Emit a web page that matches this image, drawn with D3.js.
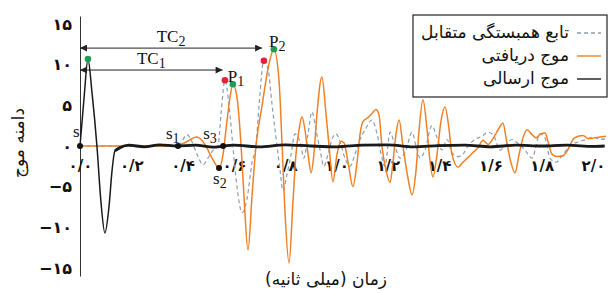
<!DOCTYPE html>
<html>
<head>
<meta charset="utf-8">
<script src="https://cdn.jsdelivr.net/npm/d3@7"></script>
<style>
  body { margin: 0; background: #fff; }
  text { fill: #111; }
  .fa { font-family: "DejaVu Sans", sans-serif; }
  .lat { font-family: "Liberation Serif", serif; }
</style>
</head>
<body>
<svg id="chart" width="611" height="293"></svg>
<script>
// tick values and labels
const xTicks = [0, 0.2, 0.4, 0.6, 0.8, 1.0, 1.2, 1.4, 1.6, 1.8, 2.0];
const xTickLabels = ["۰/۰", "۰/۲", "۰/۴", "۰/۶", "۰/۸", "۱/۰", "۱/۲", "۱/۴", "۱/۶", "۱/۸", "۲/۰"];
const yTicks = [-15, -10, -5, 0, 5, 10, 15];
const yTickLabels = ["−۱۵", "−۱۰", "−۵", "۰", "۵", "۱۰", "۱۵"];

// transmitted wave (black)
const sentTime = [0, 0.016, 0.031, 0.047, 0.066, 0.082, 0.097, 0.113, 0.125, 0.136, 0.156, 0.19, 0.25, 0.31, 0.38, 0.45, 0.52, 0.6, 0.7, 0.8, 0.9, 1.0, 1.1, 1.2, 1.3, 1.4, 1.5, 1.6, 1.7, 1.8, 1.9, 2.0, 2.045];
const sentAmp = [0, 6, 10.7, 6.5, 0, -7, -10.7, -7.5, -3, -0.6, -0.2, 0.1, -0.1, 0.15, 0, 0.1, -0.15, 0.1, -0.1, 0.15, 0, -0.1, 0.1, 0.15, -0.1, 0.05, 0.1, -0.1, 0.1, 0, 0.1, -0.05, 0];

// received wave (orange)
const recvTime = [0, 0.370, 0.402, 0.456, 0.487, 0.515, 0.542, 0.558, 0.569, 0.585, 0.596, 0.612, 0.628, 0.639, 0.655, 0.671, 0.686, 0.710, 0.733, 0.756, 0.776, 0.788, 0.799, 0.815, 0.830, 0.842, 0.854, 0.865, 0.877, 0.889, 0.901, 0.912, 0.924, 0.943, 0.959, 0.971, 0.986, 1.002, 1.018, 1.029, 1.045, 1.064, 1.080, 1.092, 1.103, 1.123, 1.138, 1.154, 1.166, 1.177, 1.193, 1.209, 1.220, 1.232, 1.244, 1.259, 1.279, 1.294, 1.310, 1.322, 1.337, 1.353, 1.365, 1.376, 1.392, 1.407, 1.423, 1.439, 1.450, 1.474, 1.493, 1.513, 1.532, 1.552, 1.571, 1.591, 1.610, 1.630, 1.649, 1.661, 1.676, 1.696, 1.712, 1.727, 1.743, 1.762, 1.778, 1.797, 1.813, 1.825, 1.840, 1.860, 1.883, 1.903, 1.922, 1.942, 1.961, 1.981, 2.004, 2.027, 2.051];
const recvAmp = [0, 0, 0.3, 1.1, 0.2, -1.5, -2.7, -1.0, 2, 6, 7.6, 6, 0, -6, -12.8, -6, 0, 5, 9.5, 11.9, 8, 0, -8, -14.4, -7, -1, 2, 3.6, 2, -1, -3.3, -1, 4, 8.5, 4, 0, -4.4, -1, 0.6, 0.4, -2, -5, -2, 1.5, 3, 3.5, 4, 4.5, 3.8, 0, -3, -4.5, -2, 1.5, 3.2, 0, -4, -6, -3, 2, 5.7, 2, -2, -3.8, -1, 3, 4.8, 2, -1, -2.6, -2, -1.4, -0.8, -0.2, 0.7, 0.2, 0.9, 2, 2.8, 1, -1.5, -3.3, -1, 1, 2, 1.4, 1, 1.5, 1.6, 0.5, -1, -1.3, -1.2, -0.4, 0.8, 1.2, 1.3, 0.9, 1.0, 1.1, 1.2];

// cross-correlation (grey dashed)
const corrTime = [0, 0.351, 0.390, 0.417, 0.437, 0.456, 0.480, 0.499, 0.519, 0.538, 0.550, 0.565, 0.581, 0.596, 0.612, 0.632, 0.651, 0.671, 0.686, 0.698, 0.717, 0.733, 0.749, 0.768, 0.780, 0.791, 0.807, 0.823, 0.838, 0.858, 0.873, 0.889, 0.904, 0.920, 0.936, 0.951, 0.967, 0.982, 0.998, 1.014, 1.033, 1.053, 1.072, 1.092, 1.115, 1.138, 1.158, 1.174, 1.189, 1.209, 1.228, 1.248, 1.271, 1.294, 1.310, 1.326, 1.345, 1.372, 1.392, 1.411, 1.431, 1.450, 1.474, 1.493, 1.513, 1.540, 1.567, 1.591, 1.614, 1.637, 1.661, 1.684, 1.708, 1.735, 1.762, 1.793, 1.813, 1.832, 1.856, 1.879, 1.910, 1.942, 1.973, 2.000, 2.027, 2.051];
const corrAmp = [0, 0, 0.3, 1.4, 0.5, -1, -2.3, -1.5, -0.5, 0, 4, 8.1, 5, 0, -5, -8.2, -6.5, -2, 0, 5, 10.5, 9.5, 5, 0, -3, -5.5, -3.5, -1, 1.5, 0.5, -1.5, 1.5, 4.2, 2, -0.5, -2.5, -1, 0.8, 1.5, 0.5, -1.5, -2.5, -1, 0.8, 2.2, 3.2, 1.5, -1, -2.5, 1.7, 0, -1.5, -0.5, 1.7, 0, -1.5, -0.5, 2.5, 1, -0.5, 0.8, -0.8, -1.3, -1, 0, 0.8, 1.2, 1.7, 1.2, -0.5, 0.2, 0.8, 0.3, -0.5, -1.5, 1.5, 1, -1.5, -2, -1.2, 0, 0.5, 0.8, 1.1, 0.8, 0.9];

// marked points
const startNames = ["s", "s1", "s3", "s2"];
const startTime = [0, 0.382, 0.558, 0.542];
const startAmp = [0, 0, 0, -2.7];
const peakNames = ["", "P1", "P2"];
const peakTime = [0.031, 0.596, 0.756];
const peakAmp = [10.7, 7.6, 11.9];
const corrPeakTime = [0.565, 0.717];
const corrPeakAmp = [8.1, 10.5];
const tcNames = ["TC1", "TC2"];
const tcEnd = [0.556, 0.71];
const tcLevel = [9.35, 12.05];

const legendLabels = ["تابع همبستگی متقابل", "موج دریافتی", "موج ارسالی"];

const orange = "#ef8026";
const grey = "#8e9db0";

const svg = d3.select("#chart");
const x = d3.scaleLinear().domain([0, 2]).range([80, 593]);
const y = d3.scaleLinear().domain([-16, 16]).range([276, 16]);

const zip = (t, v) => t.map((d, i) => [d, v[i]]);
const line = d3.line().x(d => x(d[0])).y(d => y(d[1])).curve(d3.curveMonotoneX);

// axes
const yAxis = svg.append("g")
  .attr("transform", `translate(${x(0)},0)`)
  .call(d3.axisLeft(y).tickValues(yTicks).tickSize(0).tickPadding(8)
    .tickFormat((d, i) => yTickLabels[i]));
yAxis.select(".domain").attr("stroke", "#333").attr("stroke-width", 1);
yAxis.selectAll("text").attr("class", "fa").style("font-size", "16px").style("font-weight", "bold").attr("fill", "#111");

const xAxis = svg.append("g")
  .attr("transform", `translate(0,${y(0)})`)
  .call(d3.axisBottom(x).tickValues(xTicks).tickSize(0).tickPadding(14)
    .tickFormat((d, i) => xTickLabels[i]));
xAxis.select(".domain").remove();
xAxis.selectAll("text").attr("class", "fa").style("font-size", "15px").style("font-weight", "bold").attr("fill", "#111");

// series
svg.append("path")
  .datum(zip(corrTime, corrAmp))
  .attr("d", line)
  .attr("fill", "none")
  .attr("stroke", grey)
  .attr("stroke-width", 1.2)
  .attr("stroke-dasharray", "4,3");

svg.append("path")
  .datum(zip(recvTime, recvAmp))
  .attr("d", line)
  .attr("fill", "none")
  .attr("stroke", orange)
  .attr("stroke-width", 1.5);

const sent = zip(sentTime, sentAmp);
svg.append("path")
  .datum(sent)
  .attr("d", line)
  .attr("fill", "none")
  .attr("stroke", "#1a1a1a")
  .attr("stroke-width", 1.5);
svg.append("path")
  .datum(sent.filter(d => d[0] >= 0.136))
  .attr("d", line)
  .attr("fill", "none")
  .attr("stroke", "#1a1a1a")
  .attr("stroke-width", 2.8);

// TC arrows
const defs = svg.append("defs");
["start", "end"].forEach(k => {
  defs.append("marker")
    .attr("id", "arrow-" + k)
    .attr("viewBox", "0 0 10 10")
    .attr("refX", k === "end" ? 10 : 0)
    .attr("refY", 5)
    .attr("markerWidth", 8)
    .attr("markerHeight", 7)
    .attr("markerUnits", "userSpaceOnUse")
    .attr("orient", "auto")
    .append("path")
    .attr("d", k === "end" ? "M0,0L10,5L0,10Z" : "M10,0L0,5L10,10Z")
    .attr("fill", "#222");
});

tcNames.forEach((name, i) => {
  svg.append("line")
    .attr("x1", x(0)).attr("x2", x(tcEnd[i]))
    .attr("y1", y(tcLevel[i])).attr("y2", y(tcLevel[i]))
    .attr("stroke", "#222")
    .attr("stroke-width", 1)
    .attr("marker-start", "url(#arrow-start)")
    .attr("marker-end", "url(#arrow-end)");
  const t = svg.append("text")
    .attr("class", "lat")
    .attr("x", (x(0) + x(tcEnd[i])) / 2)
    .attr("y", y(tcLevel[i]) - 6)
    .attr("text-anchor", "middle")
    .style("font-size", "17px")
    .text(name.slice(0, 2));
  t.append("tspan").attr("dy", 4).style("font-size", "14px").text(name.slice(2));
});

// start points
const startDx = [-7, -12, -20, -6];
const startDy = [-9, -7, -7, 16];
startNames.forEach((name, i) => {
  const px = x(startTime[i]), py = y(startAmp[i]);
  svg.append("circle").attr("cx", px).attr("cy", py).attr("r", 3).attr("fill", "#111");
  const t = svg.append("text")
    .attr("class", "lat")
    .attr("x", px + startDx[i])
    .attr("y", py + startDy[i])
    .style("font-size", "17px")
    .text(name.slice(0, 1));
  if (name.length > 1) {
    t.append("tspan").attr("dy", 4).style("font-size", "14px").text(name.slice(1));
  }
});

// peaks
corrPeakTime.forEach((d, i) => {
  svg.append("circle").attr("cx", x(d)).attr("cy", y(corrPeakAmp[i])).attr("r", 3.3).attr("fill", "#e8203a");
});
peakNames.forEach((name, i) => {
  const px = x(peakTime[i]), py = y(peakAmp[i]);
  svg.append("circle").attr("cx", px).attr("cy", py).attr("r", 3.3).attr("fill", "#1e9e55");
  if (name) {
    const t = svg.append("text")
      .attr("class", "lat")
      .attr("x", px - 5)
      .attr("y", py - 2)
      .style("font-size", "17px")
      .text(name.slice(0, 1));
    t.append("tspan").attr("dy", 4).style("font-size", "14px").text(name.slice(1));
  }
});

// axis titles
svg.append("text")
  .attr("class", "fa")
  .attr("transform", `translate(24,${y(0) - 3}) rotate(-90)`)
  .attr("text-anchor", "middle")
  .style("font-size", "17px")
  .text("دامنه موج");

svg.append("text")
  .attr("class", "fa")
  .attr("x", 326)
  .attr("y", 285)
  .attr("direction", "rtl")
  .attr("text-anchor", "middle")
  .style("font-size", "17px")
  .text("زمان (میلی ثانیه)");

// legend
const legend = svg.append("g").attr("transform", "translate(413,15)");
legend.append("rect")
  .attr("width", 194).attr("height", 82)
  .attr("fill", "#fff").attr("stroke", "#222").attr("stroke-width", 1.2);
const legendStroke = [grey, orange, "#1a1a1a"];
const legendDash = ["4,3", null, null];
legendLabels.forEach((label, i) => {
  const ly = 18 + i * 23;
  legend.append("line")
    .attr("x1", 164).attr("x2", 188)
    .attr("y1", ly).attr("y2", ly)
    .attr("stroke", legendStroke[i])
    .attr("stroke-width", 1.4)
    .attr("stroke-dasharray", legendDash[i]);
  legend.append("text")
    .attr("class", "fa")
    .attr("x", 156)
    .attr("y", ly + 5)
    .attr("text-anchor", "end")
    .style("font-size", "17px")
    .text(label);
});
</script>
</body>
</html>
